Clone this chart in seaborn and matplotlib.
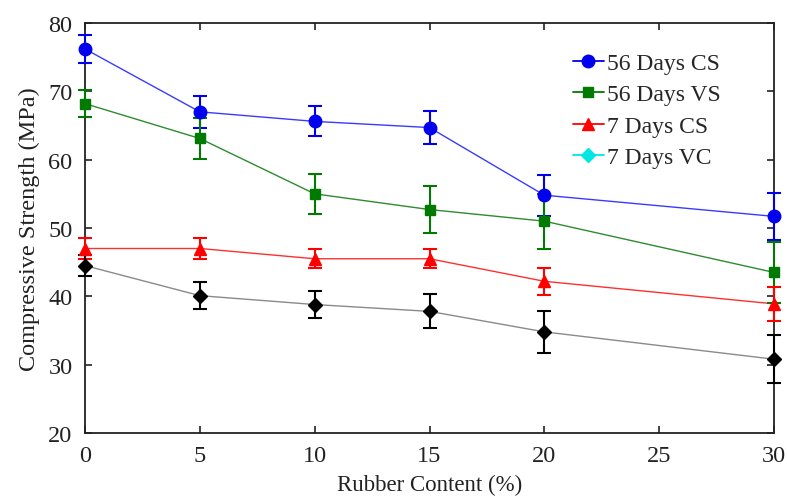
import matplotlib
matplotlib.use("Agg")
import matplotlib.pyplot as plt
from matplotlib.lines import Line2D
import seaborn as sns
import pandas as pd
import numpy as np

rubber = [0, 5, 10, 15, 20, 30]
cs56 = [76.2, 67.0, 65.6, 64.7, 54.8, 51.7]
cs56_err = [2.0, 2.3, 2.2, 2.4, 3.0, 3.4]
vs56 = [68.2, 63.1, 55.0, 52.7, 51.0, 43.5]
vs56_err = [2.0, 3.0, 2.9, 3.4, 4.0, 4.5]
cs7 = [47.0, 47.0, 45.5, 45.5, 42.2, 38.9]
cs7_err = [1.5, 1.5, 1.4, 1.4, 2.0, 2.5]
vc7 = [44.5, 40.1, 38.8, 37.8, 34.8, 30.8]
vc7_err = [1.5, 2.0, 2.0, 2.5, 3.1, 3.5]

series = ["56 Days CS", "56 Days VS", "7 Days CS", "7 Days VC"]
values = [cs56, vs56, cs7, vc7]
errors = [cs56_err, vs56_err, cs7_err, vc7_err]
line_colors = ["#3a3aff", "#2e8b2e", "#ff3030", "#8a8a8a"]
marker_colors = ["#0000ee", "#007a00", "#ff0000", "#000000"]
legend_colors = ["#0000ee", "#007a00", "#ff0000", "#00e5e5"]
markers = ["o", "s", "^", "D"]
msizes = [9, 7, 9, 7]

df = pd.DataFrame({
    "Rubber": rubber * 4,
    "Strength": sum(values, []),
    "Series": sum([[s] * len(rubber) for s in series], []),
})

sns.set_theme(style="ticks")
plt.rcParams["font.family"] = ["Liberation Serif", "DejaVu Serif"]

fig = plt.figure(figsize=(7.87, 5.02), dpi=100)
ax = fig.add_axes([85 / 787, 1 - 434 / 502, (774 - 85) / 787, (434 - 24) / 502])

for s, y, e, lc, mc, m, ms in zip(series, values, errors, line_colors, marker_colors, markers, msizes):
    sub = df[df["Series"] == s]
    sns.lineplot(data=sub, x="Rubber", y="Strength", ax=ax, color=lc, linewidth=1.0,
                 legend=False, zorder=2)
    ax.errorbar(rubber, y, yerr=e, fmt=m, color=mc, markersize=ms, capsize=5,
                elinewidth=1.5, capthick=1.5, zorder=3, clip_on=False)

ax.set_xlim(0, 30)
ax.set_ylim(20, 80)
ax.set_xticks([0, 5, 10, 15, 20, 25, 30])
ax.set_yticks([20, 30, 40, 50, 60, 70, 80])
ax.tick_params(direction="in", length=5, width=1.2, labelsize=17.5, colors="#222222",
               top=True, right=True, pad=9)
for sp in ax.spines.values():
    sp.set_linewidth(1.3)
    sp.set_color("#222222")
ax.set_xlabel("Rubber Content (%)", fontsize=16.5, color="#222222", labelpad=5)
ax.set_ylabel("Compressive Strength (MPa)", fontsize=17.5, color="#222222", labelpad=6)

handles = [Line2D([0], [0], color=c, marker=m, markersize=ms, linewidth=1.3)
           for c, m, ms in zip(legend_colors, markers, msizes)]
ax.legend(handles, series, loc="upper right", frameon=False, fontsize=17,
          handlelength=1.3, handletextpad=0.15, labelspacing=0.42,
          bbox_to_anchor=(0.954, 0.98))

fig.savefig("out.png", dpi=100)
